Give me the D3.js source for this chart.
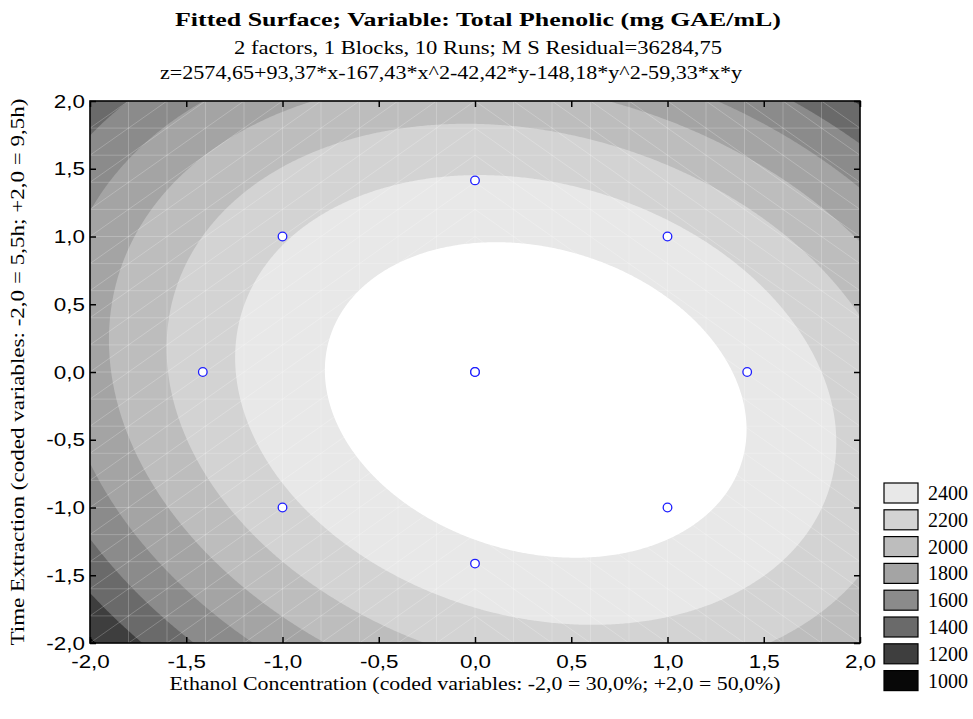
<!DOCTYPE html>
<html>
<head>
<meta charset="utf-8">
<script src="https://cdn.jsdelivr.net/npm/d3@7"></script>
<style>
  body { margin: 0; background: #fff; }
  .serif { font-family: "Liberation Serif", "Times New Roman", serif; }
  .tick text { font-family: "Liberation Sans", Arial, sans-serif; font-size: 19px; fill: #000; }
</style>
</head>
<body>
<svg id="chart" width="973" height="719"></svg>
<script>
// fitted model: z = b0 + b1*x + b2*x^2 + b3*y + b4*y^2 + b5*x*y  (from the subtitle)
const coef = [2574.65, 93.37, -167.43, -42.42, -148.18, -59.33];
// design runs (coded)
const runX = [0, -1, 1, -1.414, 0, 1.414, -1, 1, 0, 0];
const runY = [1.414, 1, 1, 0, 0, 0, -1, -1, -1.414, 0];
// contour levels and legend
const levels = [1000, 1200, 1400, 1600, 1800, 2000, 2200, 2400];
const levelColors = ["#080808", "#3e3e3e", "#6a6a6a", "#8b8b8b", "#a4a4a4", "#bdbdbd", "#d3d3d3", "#e8e8e8"];
const xTicks = [-2, -1.5, -1, -0.5, 0, 0.5, 1, 1.5, 2];
const yTicks = [-2, -1.5, -1, -0.5, 0, 0.5, 1, 1.5, 2];

const svg = d3.select("#chart");
const plot = {left: 90, right: 860, top: 101, bottom: 643};

const xscale = d3.scaleLinear().domain([-2, 2]).range([plot.left, plot.right]);
const yscale = d3.scaleLinear().domain([-2, 2]).range([plot.bottom, plot.top]);

function surf(x, y) {
    return coef[0] + coef[1]*x + coef[2]*x*x + coef[3]*y + coef[4]*y*y + coef[5]*x*y;
}

// grid for contouring, samples at cell centres
const n = 400, m = 400;
const values = new Array(n*m);
for (let j = 0; j < m; j++) {
    for (let i = 0; i < n; i++) {
        const x = -2 + 4*(i + 0.5)/n;
        const y = 2 - 4*(j + 0.5)/m;
        values[j*n + i] = surf(x, y);
    }
}

const contours = d3.contours().size([n, m]).thresholds(levels)(values);

const proj = d3.geoTransform({
    point: function(gx, gy) {
        this.stream.point(xscale(-2 + 4*gx/n), yscale(2 - 4*gy/m));
    }
});
const path = d3.geoPath(proj);

svg.append("clipPath").attr("id", "clip")
    .append("rect")
    .attr("x", plot.left).attr("y", plot.top)
    .attr("width", plot.right - plot.left).attr("height", plot.bottom - plot.top);

const area = svg.append("g").attr("clip-path", "url(#clip)");

// below lowest level
area.append("rect")
    .attr("x", plot.left).attr("y", plot.top)
    .attr("width", plot.right - plot.left).attr("height", plot.bottom - plot.top)
    .attr("fill", levelColors[0]);

// each contour = region >= level, coloured with the band above it
area.selectAll("path.band")
    .data(contours)
    .enter()
    .append("path")
        .attr("class", "band")
        .attr("d", path)
        .attr("fill", (d, i) => i + 1 < levelColors.length ? levelColors[i + 1] : "#ffffff");

// faint triangulation mesh
const mesh = area.append("g").attr("stroke", "#ffffff").attr("stroke-opacity", 0.22).attr("stroke-width", 1);
const steps = d3.range(0, 21).map(k => -2 + k*0.2);
steps.forEach(v => {
    mesh.append("line").attr("x1", xscale(v)).attr("x2", xscale(v)).attr("y1", plot.top).attr("y2", plot.bottom);
    mesh.append("line").attr("y1", yscale(v)).attr("y2", yscale(v)).attr("x1", plot.left).attr("x2", plot.right);
});
for (let a = 0; a < 20; a++) {
    for (let b = 0; b < 20; b++) {
        const x0 = -2 + a*0.2, y0 = -2 + b*0.2;
        if (x0 < 0) {
            mesh.append("line").attr("x1", xscale(x0)).attr("y1", yscale(y0)).attr("x2", xscale(x0 + 0.2)).attr("y2", yscale(y0 + 0.2));
        } else {
            mesh.append("line").attr("x1", xscale(x0)).attr("y1", yscale(y0 + 0.2)).attr("x2", xscale(x0 + 0.2)).attr("y2", yscale(y0));
        }
    }
}

// axes, ticks pointing inwards
const fmt = d => d3.format(".1f")(d).replace(".", ",").replace("−", "-");
svg.append("g")
    .attr("class", "xax")
    .attr("transform", `translate(0,${plot.bottom})`)
    .call(d3.axisBottom(xscale).tickValues(xTicks).tickSize(-6).tickPadding(12).tickFormat(fmt))
    .call(g => g.select(".domain").remove());
svg.append("g")
    .attr("class", "yax")
    .attr("transform", `translate(${plot.left},0)`)
    .call(d3.axisLeft(yscale).tickValues(yTicks).tickSize(-6).tickPadding(5).tickFormat(fmt))
    .call(g => g.select(".domain").remove());
svg.append("g")
    .attr("transform", `translate(0,${plot.top})`)
    .call(d3.axisTop(xscale).tickValues(xTicks).tickSize(-6).tickFormat(""))
    .call(g => g.select(".domain").remove());
svg.append("g")
    .attr("transform", `translate(${plot.right},0)`)
    .call(d3.axisRight(yscale).tickValues(yTicks).tickSize(-6).tickFormat(""))
    .call(g => g.select(".domain").remove());
svg.selectAll(".tick line").attr("stroke", "#000").attr("stroke-width", 1.5);
// slightly wide lettering like the original export
svg.selectAll(".xax .tick text, .yax .tick text").each(function() {
    const w = this.getComputedTextLength();
    d3.select(this).attr("textLength", w*1.18).attr("lengthAdjust", "spacingAndGlyphs");
});

svg.append("rect")
    .attr("x", plot.left).attr("y", plot.top)
    .attr("width", plot.right - plot.left).attr("height", plot.bottom - plot.top)
    .attr("fill", "none").attr("stroke", "#000").attr("stroke-width", 1.6);

// design points
svg.selectAll("circle.run")
    .data(runX)
    .enter()
    .append("circle")
        .attr("class", "run")
        .attr("cx", d => xscale(d))
        .attr("cy", (d, i) => yscale(runY[i]))
        .attr("r", 4.3)
        .attr("fill", "#ffffff")
        .attr("stroke", "#1f1fff")
        .attr("stroke-width", 1.3);

// titles
function label(x, y, size, txt, width) {
    return svg.append("text").attr("class", "serif")
        .attr("x", x).attr("y", y).attr("text-anchor", "middle")
        .attr("font-size", size)
        .attr("textLength", width).attr("lengthAdjust", "spacingAndGlyphs")
        .text(txt);
}
label(478, 26, 19, "Fitted Surface; Variable: Total Phenolic (mg GAE/mL)", 606).attr("font-weight", "bold");
label(478, 54, 18, "2 factors, 1 Blocks, 10 Runs; M S Residual=36284,75", 488);
label(451, 79, 18, "z=2574,65+93,37*x-167,43*x^2-42,42*y-148,18*y^2-59,33*x*y", 582);
label(475, 690, 18, "Ethanol Concentration (coded variables: -2,0 = 30,0%; +2,0 = 50,0%)", 611);
label(0, 0, 18, "Time Extraction (coded variables: -2,0 = 5,5h; +2,0 = 9,5h)", 547)
    .attr("x", null).attr("y", null)
    .attr("transform", `translate(24,${(plot.top + plot.bottom)/2}) rotate(-90)`);

// legend, highest level on top
const legendLevels = levels.slice().reverse();
const legendColors = levelColors.slice().reverse();
const legend = svg.append("g");
legend.selectAll("rect")
    .data(legendLevels)
    .enter()
    .append("rect")
        .attr("x", 884)
        .attr("y", (d, i) => 483 + i*26.8)
        .attr("width", 34).attr("height", 20)
        .attr("fill", (d, i) => legendColors[i])
        .attr("stroke", "#000").attr("stroke-width", 1.2);
legend.selectAll("text")
    .data(legendLevels)
    .enter()
    .append("text")
        .attr("class", "serif")
        .attr("x", 928)
        .attr("y", (d, i) => 500 + i*26.8)
        .attr("font-size", 20)
        .text(d => d);
</script>
</body>
</html>
